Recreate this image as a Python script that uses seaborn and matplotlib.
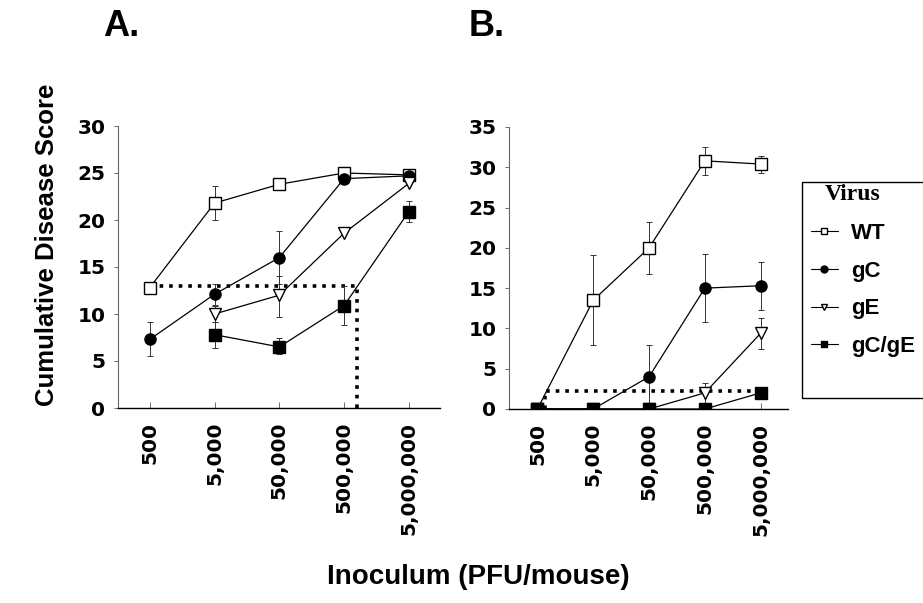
import numpy as np
import matplotlib
matplotlib.use("Agg")
import matplotlib.pyplot as plt
from matplotlib.lines import Line2D
from matplotlib.patches import Rectangle
import seaborn as sns

sns.set_theme(style="ticks")
plt.rcParams['font.family'] = ['Liberation Sans', 'DejaVu Sans']
plt.rcParams['text.color'] = 'black'
plt.rcParams['axes.labelcolor'] = 'black'
plt.rcParams['xtick.color'] = 'black'
plt.rcParams['ytick.color'] = 'black'

# ---- data ----
doses = ["500", "5,000", "50,000", "500,000", "5,000,000"]

# panel A
a_wt_x = [0, 1, 2, 3, 4]
a_wt_y = [12.8, 21.8, 23.8, 25.0, 24.8]
a_wt_lo = [12.8, 20.0, 23.8, 25.0, 24.8]
a_wt_hi = [12.8, 23.6, 23.8, 25.0, 24.8]

a_gc_x = [0, 1, 2, 3, 4]
a_gc_y = [7.3, 12.1, 16.0, 24.4, 24.7]
a_gc_lo = [5.5, 11.0, 13.2, 24.4, 24.7]
a_gc_hi = [9.2, 13.2, 18.8, 24.4, 24.7]

a_ge_x = [1, 2, 3, 4]
a_ge_y = [10.0, 12.0, 18.6, 23.9]
a_ge_lo = [9.2, 9.7, 18.6, 23.9]
a_ge_hi = [10.8, 14.0, 18.6, 23.9]

a_gcge_x = [1, 2, 3, 4]
a_gcge_y = [7.8, 6.5, 10.9, 20.9]
a_gcge_lo = [6.4, 5.7, 8.8, 19.8]
a_gcge_hi = [9.1, 7.5, 13.0, 22.0]

# panel B
b_wt_x = [0, 1, 2, 3, 4]
b_wt_y = [0.0, 13.5, 20.0, 30.8, 30.4]
b_wt_lo = [0.0, 7.9, 16.8, 29.0, 29.3]
b_wt_hi = [0.0, 19.1, 23.2, 32.5, 31.4]

b_gc_x = [0, 1, 2, 3, 4]
b_gc_y = [0.0, 0.0, 4.0, 15.0, 15.3]
b_gc_lo = [0.0, 0.0, 0.0, 10.8, 12.3]
b_gc_hi = [0.0, 0.0, 8.0, 19.2, 18.3]

b_ge_x = [0, 1, 2, 3, 4]
b_ge_y = [0.0, 0.0, 0.0, 2.0, 9.4]
b_ge_lo = [0.0, 0.0, 0.0, 0.8, 7.5]
b_ge_hi = [0.0, 0.0, 0.0, 3.2, 11.3]

b_gcge_x = [0, 1, 2, 3, 4]
b_gcge_y = [0.0, 0.0, 0.0, 0.0, 2.0]

# 50% cutoff lines (dotted)
a_cut_y, a_cut_x = 13.0, 3.2
b_cut_y, b_cut_x = 2.2, 0.14

styles = {
    "WT": dict(marker="s", markerfacecolor="white"),
    "gC": dict(marker="o", markerfacecolor="black"),
    "gE": dict(marker="v", markerfacecolor="white"),
    "gC/gE": dict(marker="s", markerfacecolor="black"),
}

fig = plt.figure(figsize=(9.23, 6.03), dpi=100)
axA = fig.add_axes([118/923, 1-408/603, 322/923, 282/603])
axB = fig.add_axes([509/923, 1-409/603, 279/923, 282/603])


def draw(ax, name, x, y, lo=None, hi=None):
    x = np.array(x); y = np.array(y)
    if lo is not None:
        yerr = [y - np.array(lo), np.array(hi) - y]
        ax.errorbar(x, y, yerr=yerr, fmt="none", ecolor="#333333",
                    elinewidth=0.7, capsize=2.5, capthick=0.7, zorder=2)
    sns.lineplot(x=x, y=y, ax=ax, color="black", linewidth=0.9,
                 markersize=8, markeredgecolor="black", markeredgewidth=1.0,
                 zorder=3, **styles[name])


draw(axA, "WT", a_wt_x, a_wt_y, a_wt_lo, a_wt_hi)
draw(axA, "gC", a_gc_x, a_gc_y, a_gc_lo, a_gc_hi)
draw(axA, "gE", a_ge_x, a_ge_y, a_ge_lo, a_ge_hi)
draw(axA, "gC/gE", a_gcge_x, a_gcge_y, a_gcge_lo, a_gcge_hi)
axA.plot([0, a_cut_x, a_cut_x], [a_cut_y, a_cut_y, 0], ":", color="black",
         linewidth=2.6, zorder=1)

draw(axB, "WT", b_wt_x, b_wt_y, b_wt_lo, b_wt_hi)
draw(axB, "gC", b_gc_x, b_gc_y, b_gc_lo, b_gc_hi)
draw(axB, "gE", b_ge_x, b_ge_y, b_ge_lo, b_ge_hi)
draw(axB, "gC/gE", b_gcge_x, b_gcge_y)
axB.plot([b_cut_x, b_cut_x, 4], [0, b_cut_y, b_cut_y], ":", color="black",
         linewidth=2.6, zorder=1)

for ax, top, xl in [(axA, 30, (-0.49, 4.48)), (axB, 35, (-0.51, 4.49))]:
    ax.set_ylim(0, top)
    ax.set_xlim(*xl)
    ax.set_yticks(np.arange(0, top + 1, 5))
    ax.set_xticks(range(len(doses)))
    ax.set_xticklabels(doses, rotation=90, va="top")
    for lab in ax.get_xticklabels() + ax.get_yticklabels():
        lab.set_fontfamily("DejaVu Sans")
        lab.set_fontweight("bold")
        lab.set_fontsize(14.5)
    ax.tick_params(axis="y", direction="out", length=3, width=0.6, pad=6,
                   color="#555555")
    ax.tick_params(axis="x", direction="in", length=4, width=0.6, pad=10,
                   color="#555555")
    sns.despine(ax=ax)
    ax.spines["left"].set_color("#666666")
    ax.spines["left"].set_linewidth(0.8)
    ax.spines["bottom"].set_color("black")
    ax.spines["bottom"].set_linewidth(1.0)
    ax.set_xlabel("")
    ax.set_ylabel("")

fig.text(103/923, 1-27/603, "A.", fontsize=26, fontweight="bold", va="center")
fig.text(469/923, 1-27/603, "B.", fontsize=26, fontweight="bold", va="center")
fig.text(47/923, 1-245/603, "Cumulative Disease Score", rotation=90,
         fontsize=18.5, fontweight="bold", ha="center", va="center")
fig.text(478/923, 1-577/603, "Inoculum (PFU/mouse)", fontsize=20,
         fontweight="bold", ha="center", va="center")

# legend box running off the right edge
fig.patches.append(Rectangle((802/923, 1-398/603), 140/923, 216/603,
                             transform=fig.transFigure, fill=False,
                             edgecolor="black", linewidth=1.0, clip_on=False))
fig.text(853/923, 1-194/603, "Virus", fontsize=17, fontweight="bold",
         family="Liberation Serif", ha="center", va="center")
handles = [Line2D([0], [0], color="black", linewidth=0.8, markersize=5,
                  markeredgecolor="black", **styles[k]) for k in styles]
fig.legend(handles, list(styles), loc="upper left",
           bbox_to_anchor=(800/923, 1-212/603), frameon=False,
           prop=dict(size=16, weight="bold"), handlelength=1.2,
           handletextpad=0.6, labelspacing=0.75, borderpad=0)

fig.savefig("out.png", dpi=100)
